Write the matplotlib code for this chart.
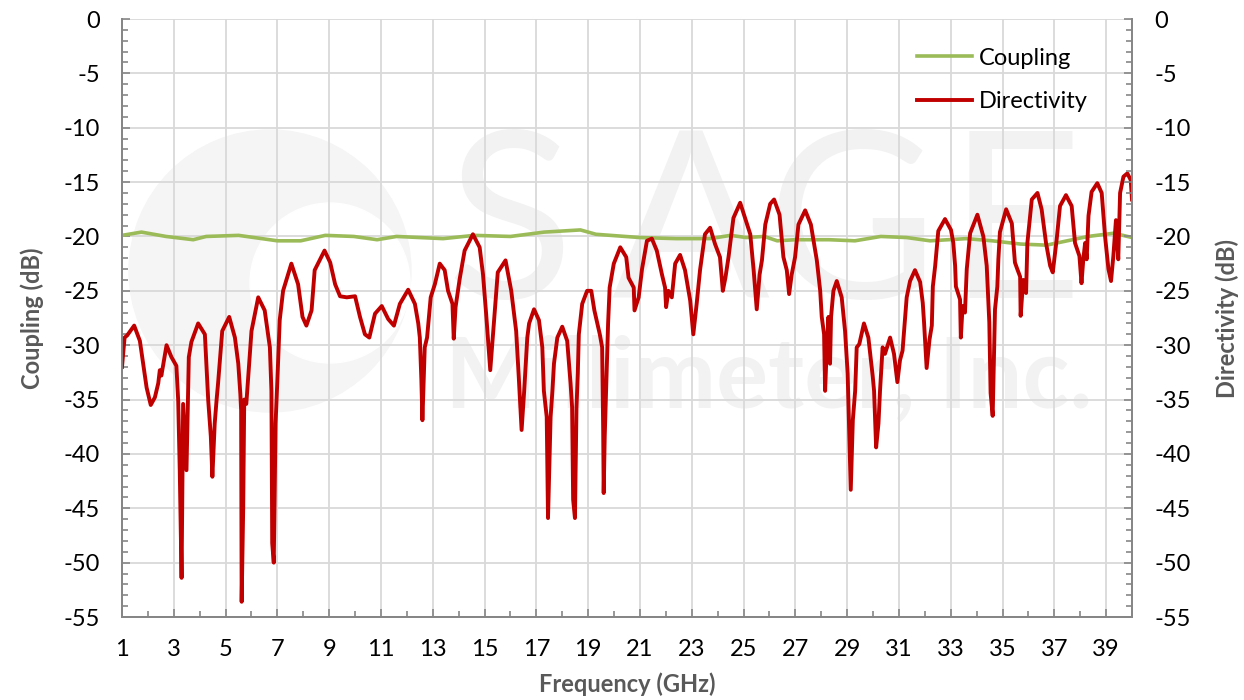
import matplotlib
matplotlib.use("Agg")
import matplotlib.pyplot as plt
from matplotlib.ticker import MultipleLocator
from matplotlib.patches import Circle
from matplotlib.transforms import IdentityTransform

# --- data ---
coup_f = [1.0, 1.75, 2.7, 3.75, 4.25, 5.5, 7.0, 7.9, 8.85, 9.95, 10.85, 11.6, 12.5, 13.4, 14.6,
          16.0, 17.3, 18.7, 19.3, 21.0, 22.4, 23.7, 24.5, 25.1, 25.8, 26.3, 27.0, 28.3, 29.3,
          30.3, 31.3, 32.2, 33.6, 34.6, 35.7, 36.7, 37.5, 38.3, 39.3, 40.0]
coup_db = [-19.9, -19.6, -20.0, -20.3, -20.0, -19.9, -20.4, -20.4, -19.9, -20.0, -20.3, -20.0, -20.1,
           -20.2, -19.9, -20.0, -19.6, -19.4, -19.8, -20.1, -20.2, -20.2, -19.9, -20.1, -20.0, -20.4,
           -20.3, -20.3, -20.4, -20.0, -20.1, -20.4, -20.2, -20.4, -20.7, -20.8, -20.4, -20.0, -19.7,
           -20.1]

dir_f = [1.0, 1.1, 1.2, 1.47, 1.69, 1.95, 2.11, 2.27, 2.4, 2.46, 2.52, 2.72, 2.91, 3.1, 3.17, 3.23,
         3.3, 3.36, 3.49, 3.58, 3.68, 3.94, 4.2, 4.33, 4.43, 4.49, 4.58, 4.65, 4.71, 4.87, 5.14,
         5.36, 5.49, 5.57, 5.6, 5.62, 5.68, 5.72, 5.8, 6.0, 6.26, 6.51, 6.71, 6.77, 6.8, 6.86, 6.93,
         7.0, 7.09, 7.22, 7.54, 7.8, 7.97, 8.12, 8.32, 8.44, 8.82, 9.04, 9.23, 9.42, 9.68, 10.0,
         10.19, 10.38, 10.55, 10.77, 11.03, 11.28, 11.5, 11.73, 12.05, 12.31, 12.44, 12.5, 12.56,
         12.6, 12.69, 12.78, 12.92, 13.08, 13.27, 13.46, 13.59, 13.76, 13.81, 13.88, 14.04, 14.23,
         14.55, 14.81, 14.94, 15.06, 15.22, 15.38, 15.51, 15.81, 16.03, 16.22, 16.32, 16.43, 16.53,
         16.65, 16.72, 16.91, 17.1, 17.23, 17.29, 17.4, 17.45, 17.55, 17.62, 17.68, 17.81, 18.0,
         18.19, 18.32, 18.38, 18.42, 18.49, 18.55, 18.6, 18.64, 18.77, 18.96, 19.12, 19.24, 19.45,
         19.54, 19.58, 19.6, 19.64, 19.71, 19.77, 19.83, 19.99, 20.24, 20.47, 20.56, 20.76, 20.79,
         20.95, 21.08, 21.27, 21.46, 21.65, 21.85, 21.97, 22.01, 22.1, 22.23, 22.36, 22.55, 22.74,
         22.94, 23.06, 23.19, 23.32, 23.51, 23.71, 23.9, 24.09, 24.2, 24.3, 24.42, 24.61, 24.87,
         25.06, 25.26, 25.39, 25.51, 25.62, 25.71, 25.84, 26.03, 26.18, 26.39, 26.54, 26.67, 26.76,
         26.86, 26.99, 27.12, 27.38, 27.6, 27.83, 27.96, 28.02, 28.11, 28.15, 28.21, 28.28, 28.34,
         28.38, 28.47, 28.6, 28.79, 28.92, 29.02, 29.14, 29.22, 29.31, 29.37, 29.47, 29.65, 29.82,
         29.99, 30.04, 30.12, 30.21, 30.27, 30.37, 30.46, 30.66, 30.81, 30.94, 31.04, 31.14, 31.2,
         31.3, 31.43, 31.62, 31.82, 31.92, 31.97, 32.07, 32.18, 32.27, 32.31, 32.4, 32.52, 32.78,
         33.01, 33.1, 33.17, 33.2, 33.36, 33.39, 33.46, 33.55, 33.62, 33.75, 34.03, 34.26, 34.39,
         34.49, 34.54, 34.62, 34.71, 34.8, 34.84, 34.9, 35.14, 35.36, 35.48, 35.57, 35.68, 35.7,
         35.8, 35.91, 35.96, 36.13, 36.35, 36.51, 36.68, 36.84, 36.94, 37.09, 37.22, 37.45, 37.67,
         37.8, 37.97, 38.05, 38.12, 38.19, 38.25, 38.32, 38.44, 38.66, 38.83, 38.96, 39.09, 39.19,
         39.28, 39.38, 39.47, 39.54, 39.67, 39.82, 39.95, 40.0]
dir_db = [-32.0, -29.3, -29.1, -28.2, -29.6, -33.9, -35.5, -34.8, -33.5, -32.3, -32.8, -30.0, -31.1,
          -31.9, -35.1, -41.5, -51.4, -35.4, -41.5, -31.1, -29.7, -28.0, -29.0, -35.1, -38.4, -42.1,
          -37.2, -35.1, -33.5, -28.7, -27.4, -29.3, -31.7, -34.5, -36.0, -53.6, -45.0, -35.0, -35.4,
          -28.7, -25.6, -26.8, -30.2, -34.2, -48.2, -50.0, -37.2, -33.2, -27.7, -25.0, -22.5, -24.4,
          -27.4, -28.2, -26.8, -23.1, -21.3, -22.4, -24.4, -25.5, -25.6, -25.5, -27.4, -29.0, -29.3,
          -27.1, -26.4, -27.6, -28.2, -26.2, -24.9, -26.2, -28.0, -29.3, -33.2, -36.9, -30.2, -29.3,
          -25.6, -24.4, -22.5, -23.1, -25.0, -26.2, -29.4, -26.5, -23.9, -21.3, -19.8, -21.0, -23.5,
          -27.1, -32.3, -27.4, -23.3, -22.2, -25.0, -28.7, -32.9, -37.8, -34.2, -29.3, -28.0, -26.7,
          -27.7, -30.2, -34.2, -36.6, -45.9, -36.6, -34.2, -31.7, -29.3, -28.3, -29.6, -33.5, -35.7,
          -44.2, -45.9, -35.7, -32.6, -29.0, -26.2, -25.0, -25.0, -26.8, -29.0, -30.2, -37.8, -43.6,
          -38.4, -32.9, -28.0, -24.7, -22.5, -21.0, -21.9, -23.8, -24.7, -26.8, -25.6, -23.0, -20.4,
          -20.2, -21.3, -23.5, -24.7, -26.5, -25.0, -25.6, -22.5, -21.7, -23.1, -25.9, -29.0, -26.2,
          -23.1, -19.8, -19.2, -20.7, -21.9, -25.0, -23.8, -21.9, -18.3, -16.9, -18.3, -19.8, -23.1,
          -26.7, -23.5, -22.2, -18.9, -17.0, -16.6, -18.0, -21.9, -23.1, -25.3, -23.5, -21.9, -18.9,
          -17.6, -18.9, -22.2, -25.0, -27.4, -29.0, -34.2, -30.5, -27.4, -31.7, -27.4, -25.0, -24.1,
          -25.6, -28.7, -32.6, -43.3, -36.9, -34.2, -30.2, -29.9, -28.0, -29.3, -32.9, -34.2, -39.4,
          -37.2, -34.2, -30.2, -30.8, -29.3, -30.8, -33.4, -31.4, -30.5, -28.7, -25.6, -24.1, -23.1,
          -24.2, -26.1, -27.9, -32.1, -29.5, -28.2, -24.6, -22.7, -19.5, -18.4, -19.4, -20.6, -22.7,
          -24.6, -25.8, -29.3, -26.4, -27.0, -23.0, -19.7, -18.0, -20.0, -22.7, -27.9, -34.4, -36.5,
          -26.7, -24.6, -22.1, -19.6, -17.5, -18.8, -22.4, -23.0, -23.7, -27.3, -24.0, -25.2, -20.6,
          -16.6, -16.0, -17.5, -20.6, -22.7, -23.3, -20.3, -17.2, -16.2, -17.2, -20.6, -21.8, -24.3,
          -22.1, -20.6, -22.1, -18.1, -15.9, -15.1, -16.0, -20.0, -23.0, -24.1, -21.8, -18.5, -22.1,
          -16.0, -14.5, -14.2, -14.8, -16.6]

x_ticks = list(range(1, 41, 2))
y_ticks = list(range(-55, 1, 5))

plt.rcParams['font.family'] = ['Lato', 'DejaVu Sans']
plt.rcParams['axes.unicode_minus'] = False

fig = plt.figure(figsize=(12.44, 7.0), dpi=100)
ax = fig.add_axes([122 / 1244, 83 / 700, 1010 / 1244, 598 / 700])
ax2 = ax.twinx()

# faint company watermark behind the grid
wm = '#f2f2f2'
H = 700
ax.add_patch(Circle((270, H - 271), 141, transform=IdentityTransform(), color='#f5f5f5', zorder=0.1, clip_on=False))
ax.add_patch(Circle((330, H - 283), 80, transform=IdentityTransform(), color='white', zorder=0.15, clip_on=False))
for ch, xc in zip("SAGE", [510, 690, 852, 1015]):
    ax.text(xc / 1244, 1 - 298 / H, ch, transform=fig.transFigure, ha='center', va='baseline',
            fontsize=168, fontweight='normal', color=wm, zorder=0.2)
ax.text(445 / 1244, 1 - 408 / H, "Millimeter, Inc.", transform=fig.transFigure, ha='left',
        va='baseline', fontsize=70, fontweight='bold', color=wm, zorder=0.2)

ax.plot(coup_f, coup_db, color='#9BBB59', lw=2.6, label='Coupling', zorder=3)
ax.plot(dir_f, dir_db, color='#C00000', lw=2.8, label='Directivity', zorder=4,
        solid_joinstyle='round')

for a in (ax, ax2):
    a.set_xlim(1, 40)
    a.set_ylim(-55, 0)
    a.set_yticks(y_ticks)
    a.yaxis.set_minor_locator(MultipleLocator(1))
    for s in a.spines.values():
        s.set_color('#868686')
        s.set_linewidth(1.3)
    a.spines['top'].set_visible(False)

ax.set_xticks(x_ticks)
ax.xaxis.set_minor_locator(MultipleLocator(1))
ax.set_axisbelow(True)
ax.grid(True, which='major', color='#d9d9d9', lw=1.3)

ax.tick_params(axis='both', which='major', direction='in', length=6, width=1.2, color='#868686',
               labelsize=17, pad=16)
ax.tick_params(axis='both', which='minor', direction='in', length=4, width=1.2, color='#868686')
ax2.tick_params(axis='y', which='major', direction='in', length=6, width=1.2, color='#868686',
                labelsize=17, pad=16)
ax2.tick_params(axis='y', which='minor', direction='in', length=4, width=1.2, color='#868686')

lab = dict(fontsize=17, fontweight='bold', color='#595959')
ax.set_xlabel('Frequency (GHz)', labelpad=9, **lab)
ax.set_ylabel('Coupling (dB)', labelpad=14, **lab)
ax2.set_ylabel('Directivity (dB)', labelpad=18, **lab)

ax.legend(loc='upper left', bbox_to_anchor=(0.778, 0.968), frameon=False, fontsize=17,
          handlelength=2.3, handletextpad=0.3, labelspacing=0.95, borderaxespad=0)

fig.savefig('out.png', dpi=100)
